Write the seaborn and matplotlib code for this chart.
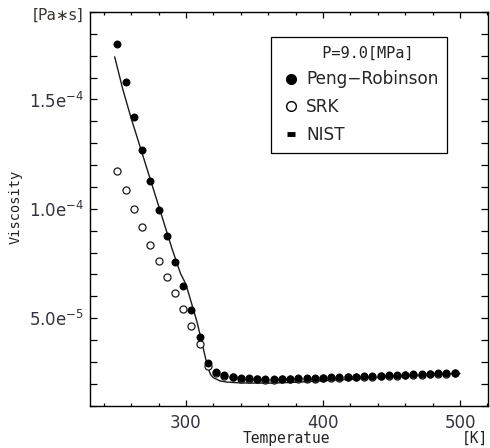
import matplotlib
matplotlib.use("Agg")
import matplotlib.pyplot as plt
from matplotlib.lines import Line2D
from matplotlib.ticker import MultipleLocator, FixedLocator
import seaborn as sns
import pandas as pd

# ---- data (viscosity in units of 1e-5 Pa*s) ----
temp_pts = [250, 256, 262, 268, 274, 280, 286, 292, 298, 304, 310, 316, 322, 328,
            334, 340, 346, 352, 358, 364, 370, 376, 382, 388, 394, 400, 406, 412,
            418, 424, 430, 436, 442, 448, 454, 460, 466, 472, 478, 484, 490, 496]
peng_robinson = [17.53, 15.78, 14.18, 12.69, 11.29, 9.97, 8.75, 7.58, 6.46, 5.36, 4.12, 2.97,
                 2.56, 2.42, 2.33, 2.27, 2.25, 2.23, 2.22, 2.22, 2.23, 2.24, 2.25, 2.26,
                 2.27, 2.28, 2.29, 2.30, 2.32, 2.33, 2.35, 2.36, 2.38, 2.39, 2.41, 2.42,
                 2.44, 2.45, 2.47, 2.48, 2.50, 2.51]
srk = [11.75, 10.85, 9.99, 9.15, 8.36, 7.60, 6.87, 6.14, 5.41, 4.66, 3.80, 2.83,
       2.50, 2.38, 2.30, 2.24, 2.22, 2.20, 2.19, 2.19, 2.20, 2.21, 2.22, 2.23,
       2.24, 2.25, 2.26, 2.27, 2.29, 2.30, 2.32, 2.33, 2.35, 2.36, 2.38, 2.39,
       2.41, 2.42, 2.44, 2.45, 2.47, 2.48]
nist_temp = [248, 254, 260, 266, 272, 278, 284, 290, 296, 300, 304, 308, 312, 314,
             316, 318, 320, 325, 330, 340, 360, 380, 400, 420, 440, 460, 480, 500]
nist = [16.95, 15.45, 14.15, 12.95, 11.75, 10.55, 9.35, 8.15, 7.05, 6.55, 5.70, 4.85,
        3.80, 3.25, 2.75, 2.42, 2.28, 2.13, 2.08, 2.04, 2.03, 2.07, 2.14, 2.21,
        2.29, 2.35, 2.41, 2.47]
x_ticks = [300, 400, 500]
y_ticks = [5.0e-5, 1.0e-4, 1.5e-4]
y_tick_labels = [r"5.0e$^{-5}$", r"1.0e$^{-4}$", r"1.5e$^{-4}$"]
legend_title = "P=9.0[MPa]"
series_names = ["Peng\u2212Robinson", "SRK", "NIST"]

scale = 1e-5
df_pts = pd.DataFrame({"T": temp_pts,
                       "PR": [v * scale for v in peng_robinson],
                       "SRK": [v * scale for v in srk]})
df_nist = pd.DataFrame({"T": nist_temp, "NIST": [v * scale for v in nist]})

sns.set_style("ticks")
plt.rcParams["font.family"] = ["DejaVu Sans"]

fig = plt.figure(figsize=(4.9, 4.48), dpi=100)
ax = fig.add_axes([90 / 490, 1 - 405.7 / 448, 398 / 490, 393.7 / 448])

sns.lineplot(data=df_nist, x="T", y="NIST", ax=ax, color="#1a1a1a", lw=1.0,
             zorder=2, legend=False)
sns.scatterplot(data=df_pts, x="T", y="SRK", ax=ax, marker="o", s=26,
                facecolor="white", edgecolor="#1a1a1a", linewidth=0.9,
                zorder=3, legend=False)
sns.scatterplot(data=df_pts, x="T", y="PR", ax=ax, marker="o", s=27,
                color="black", edgecolor="black", linewidth=0.5,
                zorder=4, legend=False)

ax.set_xlim(230, 520.4)
ax.set_ylim(1.0e-5, 1.9e-4)
ax.xaxis.set_major_locator(FixedLocator(x_ticks))
ax.xaxis.set_minor_locator(MultipleLocator(20))
ax.yaxis.set_major_locator(FixedLocator(y_ticks))
ax.yaxis.set_minor_locator(MultipleLocator(1e-5))
ax.set_xticklabels([str(t) for t in x_ticks])
ax.set_yticklabels(y_tick_labels)

tick_color = "#33333f"
ax.tick_params(axis="both", which="both", direction="in", top=True, right=True,
               width=0.9, color="black", labelcolor=tick_color, labelsize=12)
ax.tick_params(axis="x", which="major", length=4.5, pad=6)
ax.tick_params(axis="x", which="minor", length=2.3)
ax.tick_params(axis="y", which="both", length=5.0, pad=4)
for sp in ax.spines.values():
    sp.set_linewidth(1.0)
    sp.set_color("black")

ax.set_xlabel("")
ax.set_ylabel("")
fig.text(286 / 490, 1 - 438 / 448, "Temperatue", family="DejaVu Sans Mono",
         fontsize=10.5, ha="center", va="center", color="#222")
fig.text(488 / 490, 1 - 438 / 448, "[K]", family="DejaVu Sans Mono",
         fontsize=10.5, ha="right", va="center", color="#222")
fig.text(16 / 490, 1 - 207 / 448, "Viscosity", family="DejaVu Sans Mono",
         fontsize=9.8, rotation=90, ha="center", va="center", color="#222")
fig.text(83 / 490, 1 - 15 / 448, "[Pa\u2217s]", fontsize=11, ha="right",
         va="center", color="#3a3530")

handles = [
    Line2D([], [], ls="none", marker="o", ms=7, mfc="black", mec="black"),
    Line2D([], [], ls="none", marker="o", ms=7, mfc="white", mec="black", mew=1.0),
    Line2D([], [], ls="none", marker="_", ms=5.5, mec="black", mew=3.5),
]
leg = ax.legend(handles, series_names, title="  " + legend_title, loc="upper left",
                bbox_to_anchor=(0.454, 0.936), borderaxespad=0, frameon=True,
                fancybox=False, framealpha=1, edgecolor="black", fontsize=12.2,
                handlelength=1.4, handletextpad=0.2, labelspacing=0.58,
                borderpad=0.5,
                title_fontproperties={"family": "DejaVu Sans Mono", "size": 11})
leg.get_frame().set_linewidth(0.9)
leg.get_title().set_color("#222")

fig.savefig("out.png", dpi=100)
